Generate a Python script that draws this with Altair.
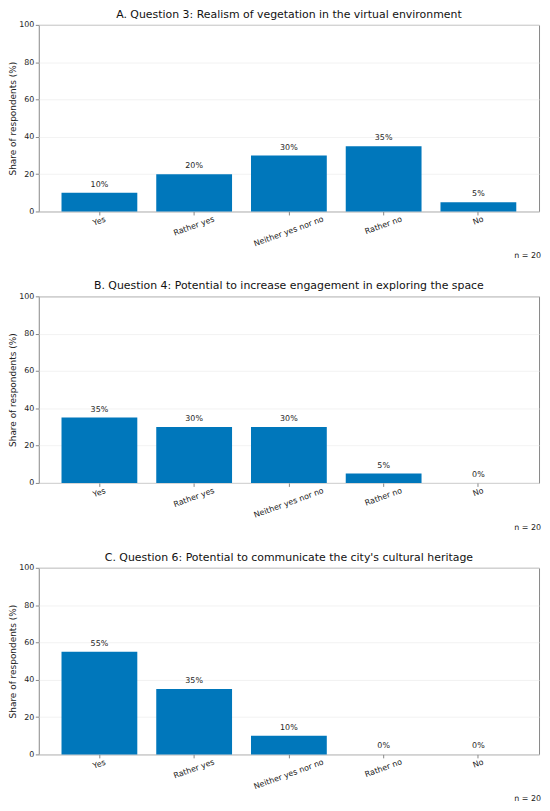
import altair as alt
import pandas as pd

categories = ["Yes", "Rather yes", "Neither yes nor no", "Rather no", "No"]
titles = [
    "A. Question 3: Realism of vegetation in the virtual environment",
    "B. Question 4: Potential to increase engagement in exploring the space",
    "C. Question 6: Potential to communicate the city's cultural heritage",
]
values_a = [10, 20, 30, 35, 5]
values_b = [35, 30, 30, 5, 0]
values_c = [55, 35, 10, 0, 0]
n_note = "n = 20"
y_ticks = [0, 20, 40, 60, 80, 100]

W = 504
H = 188
BAR = "#0077BB"
FONT = "DejaVu Sans"


def panel(title, values):
    df = pd.DataFrame({
        "cat": categories,
        "val": values,
        "label": [f"{v}%" for v in values],
    })
    base = alt.Chart(df).encode(
        x=alt.X(
            "cat:N",
            sort=categories,
            scale=alt.Scale(paddingInner=0.2, paddingOuter=0.24),
            axis=alt.Axis(title=None, labelAngle=-20, labelAlign="center",
                          labelBaseline="middle",
                          labelPadding={"expr": "4.3 + length(datum.value) * 0.684"}),
        ),
        y=alt.Y(
            "val:Q",
            scale=alt.Scale(domain=[0, 100], nice=False),
            axis=alt.Axis(values=y_ticks, title="Share of respondents (%)",
                          grid=True, titlePadding=1, labelPadding=1.5),
        ),
    )
    bars = base.mark_bar(color=BAR)
    text = base.mark_text(baseline="bottom", dy=-4, fontSize=8, font=FONT,
                          color="#222").encode(text="label:N")
    note_df = pd.DataFrame({"t": [n_note]})
    note = alt.Chart(note_df).mark_text(
        align="right", baseline="middle", fontSize=8, font=FONT, color="#222"
    ).encode(x=alt.value(W + 2), y=alt.value(H + 45), text="t:N")
    return alt.layer(bars, text, note).properties(
        width=W, height=H,
        title=alt.TitleParams(title, fontSize=11, font=FONT, fontWeight="normal",
                              color="#111", anchor="middle", frame="group",
                              offset=1),
    )


chart = alt.vconcat(
    panel(titles[0], values_a),
    panel(titles[1], values_b),
    panel(titles[2], values_c),
    spacing=18.5,
).properties(
    padding={"left": 0, "top": -3, "right": 0, "bottom": 0}
).configure_view(
    stroke="#888888", strokeWidth=1
).configure_axis(
    domain=False,
    tickColor="#888888",
    tickSize=3.5,
    labelFont=FONT,
    labelFontSize=8,
    labelColor="#222",
    titleFont=FONT,
    titleFontSize=9,
    titleFontWeight="normal",
    titleColor="#222",
    gridColor="#eeeeee",
    gridWidth=0.8,
).configure_axisX(grid=False)

chart.save("out.html", embed_options={"renderer": "svg", "actions": False})
